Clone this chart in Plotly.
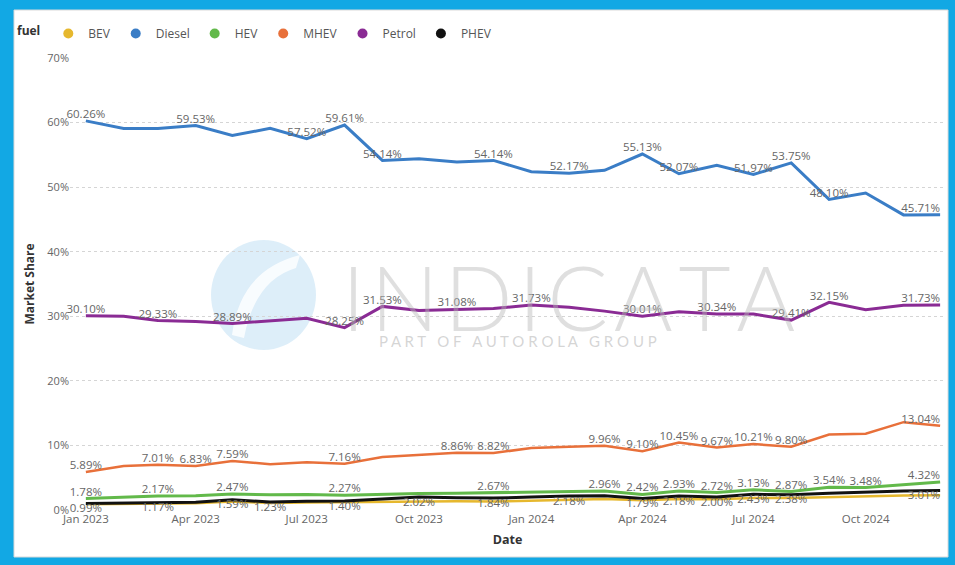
import plotly.graph_objects as go
import pandas as pd

months = list(pd.date_range("2023-01-01", periods=24, freq="MS"))

bev = [0.90, 0.95, 1.00, 1.05, 1.30, 1.10, 1.15, 1.20, 1.35, 1.40, 1.35, 1.30,
       1.45, 1.60, 1.70, 1.50, 1.70, 1.65, 1.85, 1.85, 2.00, 2.10, 2.25, 2.30]
diesel = [60.26, 59.10, 59.10, 59.53, 58.00, 59.10, 57.52, 59.61, 54.14, 54.40, 53.90, 54.14,
          52.40, 52.17, 52.60, 55.13, 52.07, 53.40, 51.97, 53.75, 48.10, 49.10, 45.70, 45.71]
hev = [1.78, 1.95, 2.17, 2.20, 2.47, 2.35, 2.40, 2.27, 2.45, 2.55, 2.60, 2.67,
       2.80, 2.90, 2.96, 2.42, 2.93, 2.72, 3.13, 2.87, 3.54, 3.48, 3.95, 4.32]
mhev = [5.89, 6.80, 7.01, 6.83, 7.59, 7.10, 7.40, 7.16, 8.20, 8.50, 8.86, 8.82,
        9.60, 9.80, 9.96, 9.10, 10.45, 9.67, 10.21, 9.80, 11.70, 11.80, 13.60, 13.04]
petrol = [30.10, 30.00, 29.33, 29.20, 28.89, 29.30, 29.70, 28.25, 31.53, 30.90, 31.08, 31.20,
          31.73, 31.40, 30.80, 30.01, 30.70, 30.34, 30.35, 29.41, 32.15, 31.00, 31.70, 31.73]
phev = [0.99, 1.05, 1.17, 1.20, 1.59, 1.23, 1.35, 1.40, 1.70, 2.02, 1.90, 1.84,
        2.00, 2.18, 2.20, 1.79, 2.18, 2.00, 2.43, 2.38, 2.60, 2.80, 2.95, 3.01]

# indices of points carrying a data label in the original
diesel_lbl = [0, 3, 6, 7, 8, 11, 13, 15, 16, 18, 19, 20, 23]
petrol_lbl = [0, 2, 4, 7, 8, 10, 12, 15, 17, 19, 20, 23]
mhev_lbl = [0, 2, 3, 4, 7, 10, 11, 14, 15, 16, 17, 18, 19, 23]
hev_lbl = [0, 2, 4, 7, 11, 14, 15, 16, 17, 18, 19, 20, 21, 23]
phev_lbl = [0, 2, 4, 5, 7, 9, 11, 13, 15, 16, 17, 18, 19, 23]

y_ticks = [0, 10, 20, 30, 40, 50, 60, 70]

colors = {
    "BEV": "#E6B82E",
    "Diesel": "#3A7DC6",
    "HEV": "#62B94A",
    "MHEV": "#E8703A",
    "Petrol": "#8A2B94",
    "PHEV": "#111111",
}

FONT = "Open Sans, Noto Sans, sans-serif"
LABEL_COLOR = "#666666"


def labels(vals, idx):
    return [f"{v:.2f}%" if i in idx else "" for i, v in enumerate(vals)]


def positions(vals, vert):
    n = len(vals)
    return [f"{vert} left" if i == n - 1 else f"{vert} center" for i in range(n)]


fig = go.Figure()

series = [
    ("BEV", bev, None, "top", 2.5),
    ("PHEV", phev, phev_lbl, "bottom", 3),
    ("HEV", hev, hev_lbl, "top", 3),
    ("MHEV", mhev, mhev_lbl, "top", 2.5),
    ("Petrol", petrol, petrol_lbl, "top", 3),
    ("Diesel", diesel, diesel_lbl, "top", 3),
]

for name, vals, idx, vert, w in series:
    fig.add_trace(go.Scatter(
        x=months, y=vals, name=name,
        mode="lines+text" if idx else "lines",
        line=dict(color=colors[name], width=w),
        text=labels(vals, idx) if idx else None,
        textposition=positions(vals, vert),
        textfont=dict(family=FONT, size=11.5, color=LABEL_COLOR),
        showlegend=False,
        cliponaxis=False,
    ))

# legend entries (circle markers as in the original)
for name in ["BEV", "Diesel", "HEV", "MHEV", "Petrol", "PHEV"]:
    fig.add_trace(go.Scatter(
        x=[None], y=[None], name=name, mode="markers",
        marker=dict(color=colors[name], size=10, symbol="circle"),
        showlegend=True,
    ))

# frame / background
L, R, T, B = 70, 10, 58, 55
PW = 955 - L - R
PH = 565 - T - B


def px_x(p):
    return (p - L) / PW


def px_y(p):
    return (565 - B - p) / PH


fig.add_shape(type="rect", xref="paper", yref="paper",
              x0=px_x(14), x1=px_x(948), y0=px_y(557), y1=px_y(10),
              fillcolor="white", line=dict(color="#D9D9D9", width=1), layer="below")

# watermark logo
fig.add_shape(type="circle", xref="paper", yref="paper",
              x0=px_x(211), x1=px_x(316), y0=px_y(350), y1=px_y(240),
              fillcolor="rgba(180,218,242,0.45)", line=dict(width=0), layer="below")
fig.add_shape(type="path", xref="paper", yref="paper",
              path=(f"M {px_x(232)},{px_y(335)} Q {px_x(240)},{px_y(270)} {px_x(300)},{px_y(255)}"
                    f" L {px_x(296)},{px_y(268)} Q {px_x(255)},{px_y(280)} {px_x(244)},{px_y(338)} Z"),
              fillcolor="rgba(255,255,255,0.8)", line=dict(width=0), layer="below")

fig.add_annotation(xref="paper", yref="paper", x=px_x(565), y=px_y(296),
                   text="\u200aI\u200aN\u200aD\u200aI\u200aC\u200aA\u200aT\u200aA", showarrow=False,
                   font=dict(family="Lato, Open Sans, sans-serif", size=90, color="rgba(185,185,185,0.45)",
                             weight=300),
                   xanchor="center", yanchor="middle")
fig.add_annotation(xref="paper", yref="paper", x=px_x(518), y=px_y(341),
                   text="P A R T   O F   A U T O R O L A   G R O U P", showarrow=False,
                   font=dict(family="Lato, Open Sans, sans-serif", size=15, color="rgba(185,185,185,0.6)"),
                   xanchor="center", yanchor="middle")

fig.update_layout(
    width=955, height=565,
    margin=dict(l=L, r=R, t=T, b=B, autoexpand=False),
    paper_bgcolor="#12A8E4",
    plot_bgcolor="rgba(0,0,0,0)",
    font=dict(family=FONT, size=11, color="#666666"),
    legend=dict(
        orientation="h", x=px_x(15), y=px_y(19), xanchor="left", yanchor="top",
        title=dict(text="<b>fuel</b>", font=dict(family=FONT, size=12, color="#333333")),
        font=dict(family=FONT, size=12, color="#555555"),
        itemwidth=30, bgcolor="rgba(0,0,0,0)", tracegroupgap=0,
    ),
    xaxis=dict(
        type="date",
        range=["2022-12-19", "2024-12-05"],
        tick0="2023-01-01", dtick="M3", tickformat="%b %Y",
        showgrid=False, zeroline=False, showline=False,
        tickfont=dict(family=FONT, size=11.5, color="#666666"),
        title=dict(text="<b>Date</b>", font=dict(family=FONT, size=12.5, color="#333333"), standoff=10),
        ticks="", automargin=False,
    ),
    yaxis=dict(
        range=[0, 70],
        tickvals=y_ticks, ticktext=[f"{v}%" for v in y_ticks],
        showgrid=True, gridcolor="#D5D5D5", griddash="dot", gridwidth=1,
        zeroline=False, showline=False,
        tickfont=dict(family=FONT, size=11, color="#666666"),
        title=dict(text="<b>Market Share</b>", font=dict(family=FONT, size=12, color="#333333"), standoff=10),
        ticks="", automargin=False,
    ),
)

fig.write_html("out.html", config={"displayModeBar": False},
               post_script="document.body.style.margin='0';document.body.style.overflow='hidden';")
